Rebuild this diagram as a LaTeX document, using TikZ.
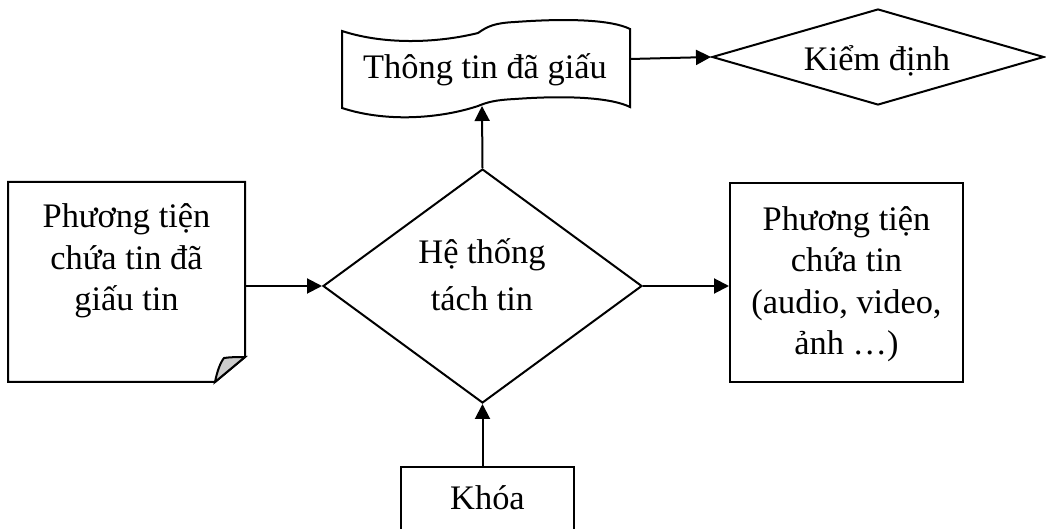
\documentclass[tikz,border=0pt]{standalone}
\usepackage{fontspec}
\setmainfont{Liberation Serif}
\usetikzlibrary{shapes.geometric,arrows.meta,calc}
\begin{document}
\begin{tikzpicture}[x=0.5pt,y=-0.5pt,
  line width=1pt,
  lbl/.style={font=\fontsize{17.2}{20.75}\selectfont, align=center, inner sep=0pt},
  flow/.style={-{Triangle[length=7.5pt,width=7.5pt]}},
  box/.style={draw, rectangle, inner sep=0pt},
  decision/.style={draw, diamond, inner sep=0pt}]
\useasboundingbox (0,0) rectangle (1046,529);
\clip (0,0) rectangle (1046,529);

% hidden-message storage (punched-tape outline)
\draw (342,31) .. controls (388,46) and (442,42) .. (478,33)
  .. controls (488,26) and (495,23) .. (515,22)
  .. controls (570,18) and (612,20) .. (630,29)
  -- (630,107) .. controls (612,98) and (570,95) .. (515,99)
  .. controls (495,100) and (488,102) .. (478,106)
  .. controls (442,118) and (388,123) .. (342,108) -- cycle;
\node[lbl] (wave) at (485,70) {Thông tin đã giấu};
\coordinate (wave-in) at (482,106);
\coordinate (wave-out) at (630,59);

% verification
\node[decision, minimum width=166pt, minimum height=48pt] (check) at (878,57) {};
\node[lbl] (check-text) at (877,61) {Kiểm định};

% extraction system
\node[decision, minimum width=159.5pt, minimum height=117pt] (sys) at (482.5,286) {};
\node[lbl, font=\fontsize{17.2}{23.5}\selectfont] (sys-text) at (482,275) {Hệ thống\\tách tin};

% stego carrier (document with folded corner)
\node[minimum width=117.5pt, minimum height=99pt, inner sep=0pt] (src) at (126.5,282) {};
\coordinate (fold-a) at ($(src.south east)+(0,-25)$);
\coordinate (fold-b) at ($(src.south east)+(-30,0)$);
\draw (src.north west) -- (src.north east) -- (fold-a) -- (fold-b)
  -- (src.south west) -- cycle;
\filldraw[fill=gray!40] (fold-b) .. controls (217,372) and (220,363) .. (224,358)
  .. controls (231,357) and (238,357) .. (fold-a) -- cycle;
\node[lbl] (src-text) at (126.5,261) {Phương tiện\\chứa tin đã\\giấu tin};

% recovered carrier
\node[box, minimum width=116.5pt, minimum height=99.5pt] (dst) at (846.5,282.5) {};
\node[lbl] (dst-text) at (846.5,284) {Phương tiện\\chứa tin\\(audio, video,\\ảnh …)};

% key
\node[box, minimum width=86.5pt, minimum height=43pt] (key) at (487.5,510) {};
\node[lbl] (key-text) at (487.5,498) {Khóa};

% connectors
\draw[flow] (src.east |- sys.west) -- (sys.west);
\draw[flow] (sys.east) -- (dst.west |- sys.east);
\draw[flow] (sys.north) -- (wave-in);
\draw[flow] (wave-out) -- (check.west);
\draw[flow] (sys.south |- key.north) -- (sys.south);
\end{tikzpicture}
\end{document}
